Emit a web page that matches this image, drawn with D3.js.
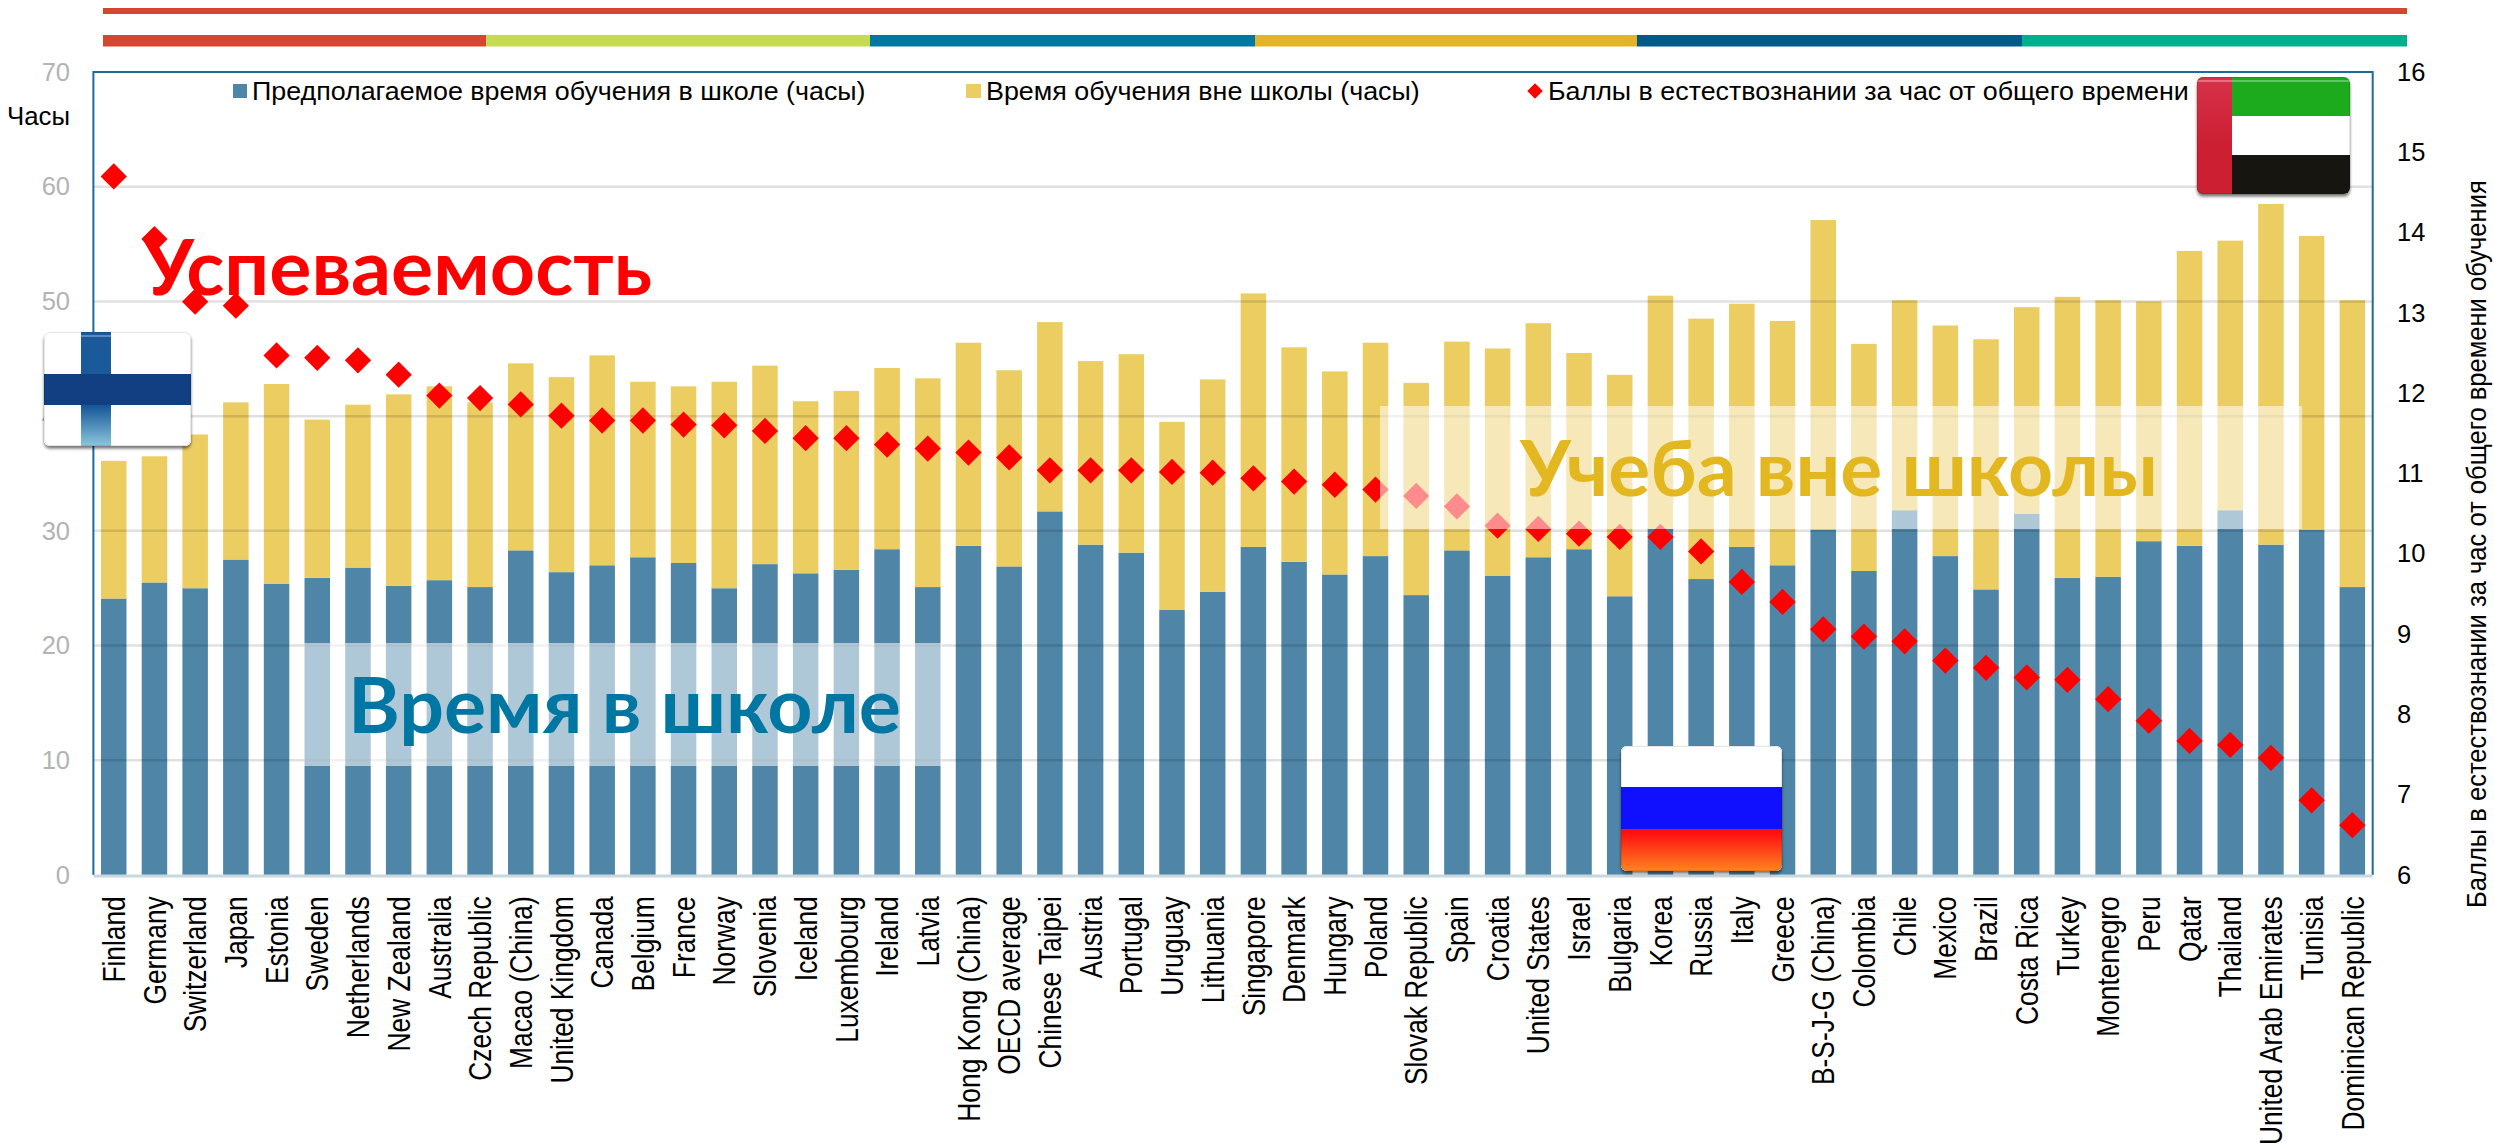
<!DOCTYPE html>
<html><head><meta charset="utf-8">
<script src="https://cdnjs.cloudflare.com/ajax/libs/d3/7.8.5/d3.min.js"></script>
<style>html,body{margin:0;padding:0;background:#fff;overflow:hidden}svg{display:block}text{font-family:"Liberation Sans",Arial,sans-serif}</style>
</head><body><svg id="c" width="2494" height="1143"></svg>
<script>
const categories=["Finland","Germany","Switzerland","Japan","Estonia","Sweden","Netherlands","New Zealand","Australia","Czech Republic","Macao (China)","United Kingdom","Canada","Belgium","France","Norway","Slovenia","Iceland","Luxembourg","Ireland","Latvia","Hong Kong (China)","OECD average","Chinese Taipei","Austria","Portugal","Uruguay","Lithuania","Singapore","Denmark","Hungary","Poland","Slovak Republic","Spain","Croatia","United States","Israel","Bulgaria","Korea","Russia","Italy","Greece","B-S-J-G (China)","Colombia","Chile","Mexico","Brazil","Costa Rica","Turkey","Montenegro","Peru","Qatar","Thailand","United Arab Emirates","Tunisia","Dominican Republic"];
const schoolHours=[24.1,25.5,25.0,27.5,25.4,25.9,26.8,25.2,25.7,25.1,28.3,26.4,27.0,27.7,27.2,25.0,27.1,26.3,26.6,28.4,25.1,28.7,26.9,31.7,28.8,28.1,23.1,24.7,28.6,27.3,26.2,27.8,24.4,28.3,26.1,27.7,28.4,24.3,30.2,25.8,28.6,27.0,30.1,26.5,31.8,27.8,24.9,31.5,25.9,26.0,29.1,28.7,31.8,28.8,30.1,25.1];
const outsideHours=[12.0,11.0,13.4,13.7,17.4,13.8,14.2,16.7,16.9,16.1,16.3,17.0,18.3,15.3,15.4,18.0,17.3,15.0,15.6,15.8,18.2,17.7,17.1,16.5,16.0,17.3,16.4,18.5,22.1,18.7,17.7,18.6,18.5,18.2,19.8,20.4,17.1,19.3,20.3,22.7,21.2,21.3,27.0,19.8,18.3,20.1,21.8,18.0,24.5,24.1,20.9,25.7,23.5,29.7,25.6,25.0];
const sciencePerHour=[14.70,13.92,13.14,13.09,12.47,12.44,12.41,12.23,11.97,11.94,11.86,11.72,11.66,11.66,11.61,11.60,11.53,11.44,11.44,11.36,11.31,11.26,11.20,11.04,11.04,11.04,11.02,11.01,10.94,10.90,10.86,10.80,10.72,10.59,10.35,10.31,10.25,10.21,10.21,10.03,9.65,9.40,9.06,8.97,8.91,8.67,8.58,8.46,8.43,8.19,7.92,7.67,7.62,7.46,6.93,6.62];
const leftTicks=[0,10,20,30,40,50,60,70];
const rightTicks=[6,7,8,9,10,11,12,13,14,15,16];
const legendLabels=["Предполагаемое время обучения в школе (часы)","Время обучения вне школы (часы)","Баллы в естествознании за час от общего времени обучения"];
const leftTitle="Часы";
const rightTitle="Баллы в естествознании за час от общего времени обучения";
const ribbonColors=["#d24632","#c6da52","#0078a0","#e3b428","#005a87","#00b08c"];
const ribbonEdges=[103,486,870,1255,1637,2022,2407];

const L=93.4,R=2372.7,T=72,B=875;
const svg=d3.select("#c"),defs=svg.append("defs");
const x=d3.scaleBand().domain(categories).range([L,R]).paddingInner(1-25.5/40.7).paddingOuter((1-25.5/40.7)/2);
const y=d3.scaleLinear().domain([0,70]).range([B,T]);
const y2=d3.scaleLinear().domain([6,16]).range([B,T]);
const BLUE="#4f86a7",GOLD="#ebcd62";

function fit(g,str,o){
  const t=g.append("text").text(str).attr("font-size",o.size).attr("fill",o.fill||"#000")
    .attr("font-weight",o.weight||400).style("font-family",o.family||null);
  const len=t.node().getComputedTextLength();
  t.attr("transform",`translate(${o.x},${o.y})${o.rot?" rotate(-90)":""} scale(${o.width/len},1)`);
  return t;
}

// ribbons
svg.append("rect").attr("x",103).attr("y",8).attr("width",2304).attr("height",6).attr("fill",ribbonColors[0]);
svg.append("g").selectAll("rect").data(ribbonColors).join("rect")
  .attr("x",(d,i)=>ribbonEdges[i]).attr("width",(d,i)=>ribbonEdges[i+1]-ribbonEdges[i]).attr("y",35).attr("height",11.5).attr("fill",d=>d);

// stacked bars
const rows=categories.map((c,i)=>({c,school:schoolHours[i],outside:outsideHours[i]}));
const stack=d3.stack().keys(["school","outside"])(rows);
const colors={school:BLUE,outside:GOLD};
svg.append("g").selectAll("g").data(stack).join("g").attr("fill",d=>colors[d.key])
  .selectAll("rect").data(d=>d).join("rect")
  .attr("x",d=>x(d.data.c)).attr("width",x.bandwidth())
  .attr("y",d=>y(d[1])).attr("height",d=>y(d[0])-y(d[1]));

// gridlines (seen through bars)
svg.append("g").selectAll("line").data(leftTicks.slice(1,-1)).join("line")
  .attr("x1",L).attr("x2",R).attr("y1",d=>y(d)).attr("y2",d=>y(d))
  .attr("stroke","#000").attr("stroke-opacity",.12).attr("stroke-width",2.5);

// frame
const FR="#1d6a9c";
svg.append("path").attr("d",`M${L},${B}V${T}H${R}V${B}`).attr("fill","none").attr("stroke",FR).attr("stroke-width",2);
svg.append("line").attr("x1",L).attr("x2",R).attr("y1",B+1).attr("y2",B+1).attr("stroke","#c9d7df").attr("stroke-width",3);

// axes
const ax=svg.append("g").attr("transform",`translate(0,${B})`).call(d3.axisBottom(x).tickSize(0));
ax.select(".domain").remove();
ax.selectAll("text").attr("font-size",31).attr("fill","#000").attr("text-anchor","end")
  .attr("y",0).attr("dy",".36em").attr("x",-25)
  .attr("transform","rotate(-90) scale(.85,1)");
const al=svg.append("g").attr("transform",`translate(70,0)`).call(d3.axisLeft(y).tickValues(leftTicks).tickSize(0).tickPadding(0));
al.select(".domain").remove();
al.selectAll("text").attr("font-size",25.5).attr("fill","#b3b3b3");
const ar=svg.append("g").attr("transform",`translate(2397,0)`).call(d3.axisRight(y2).tickValues(rightTicks).tickSize(0).tickPadding(0));
ar.select(".domain").remove();
ar.selectAll("text").attr("font-size",25.5).attr("fill","#000");
fit(svg,leftTitle,{x:7,y:125,size:25.5,width:63});
fit(svg,rightTitle,{x:2486,y:908,size:28,width:728,rot:true});

// legend
const lg=svg.append("g");
lg.append("rect").attr("x",233).attr("y",84).attr("width",14).attr("height",14).attr("fill",BLUE);
fit(lg,legendLabels[0],{x:252,y:100,size:25.5,width:614});
lg.append("rect").attr("x",966).attr("y",84).attr("width",15).attr("height",14).attr("fill",GOLD);
fit(lg,legendLabels[1],{x:986,y:100,size:25.5,width:434});
lg.append("path").attr("d",d3.symbol(d3.symbolSquare,120)).attr("transform","translate(1535,91) rotate(45)").attr("fill","#f00");
fit(lg,legendLabels[2],{x:1548,y:100,size:25.5,width:765});

// diamonds
svg.append("g").selectAll("path").data(sciencePerHour).join("path")
  .attr("d",d3.symbol(d3.symbolSquare,345))
  .attr("transform",(d,i)=>`translate(${x(categories[i])+x.bandwidth()/2},${y2(d)}) rotate(45)`)
  .attr("fill","#f00");

// callouts
const CAL='"Lato","Carlito","Open Sans",sans-serif';
svg.append("rect").attr("x",304).attr("y",643).attr("width",638).attr("height",123).attr("fill","#fff").attr("fill-opacity",.55);
svg.append("rect").attr("x",1380).attr("y",406).attr("width",922).attr("height",123).attr("fill","#fff").attr("fill-opacity",.55);
fit(svg,"Успеваемость",{x:143,y:295,size:77,width:509,weight:700,fill:"#ff0000",family:CAL});
fit(svg,"Время в школе",{x:348,y:733,size:77,width:553,weight:700,fill:"#0076a3",family:CAL});
fit(svg,"Учеба вне школы",{x:1520,y:496,size:77,width:638,weight:700,fill:"#e3b720",family:CAL});

// flags
defs.append("filter").attr("id","sh").attr("x","-10%").attr("y","-10%").attr("width","120%").attr("height","125%")
  .append("feDropShadow").attr("dx",0).attr("dy",2.5).attr("stdDeviation",1.5).attr("flood-color","#000").attr("flood-opacity",.55);
function grad(id,a,b,o1=0,o2=1){const g=defs.append("linearGradient").attr("id",id).attr("x1",0).attr("y1",0).attr("x2",0).attr("y2",1);
  g.append("stop").attr("offset",o1).attr("stop-color",a);g.append("stop").attr("offset",o2).attr("stop-color",b);}
grad("fin","#1a5a9a","#8cc6dc",.66,1);grad("rus","#ff1010","#ff8420",.1,1);grad("uaeR","#d8324a","#cc1f32",0,.6);
function flag(id,X,Y,W,H,parts){
  defs.append("clipPath").attr("id",id).append("rect").attr("x",X).attr("y",Y).attr("width",W).attr("height",H).attr("rx",6);
  svg.append("rect").attr("x",X).attr("y",Y).attr("width",W).attr("height",H).attr("rx",6).attr("fill","#fff").attr("filter","url(#sh)");
  const g=svg.append("g").attr("clip-path",`url(#${id})`);
  parts.forEach(p=>g.append("rect").attr("x",p[0]).attr("y",p[1]).attr("width",p[2]).attr("height",p[3]).attr("fill",p[4]));
  g.append("rect").attr("x",X).attr("y",Y+3).attr("width",W).attr("height",2).attr("fill","#fff").attr("fill-opacity",.3);
  svg.append("rect").attr("x",X+.5).attr("y",Y+.5).attr("width",W-1).attr("height",H-1).attr("rx",6).attr("fill","none").attr("stroke","#000").attr("stroke-opacity",.1);
}
flag("cf",44,332,147,114,[[44,332,147,114,"#fff"],[81,332,30,114,"url(#fin)"],[44,374,147,31,"#123f82"]]);
flag("cu",2197,77,153,117,[[2197,77,153,39,"#1cab1c"],[2197,116,153,39,"#fff"],[2197,155,153,39,"#161510"],[2197,77,35,117,"url(#uaeR)"]]);
flag("cr",1621,746,161,125,[[1621,746,161,41,"#fff"],[1621,787,161,42,"#1010ff"],[1621,829,161,42,"url(#rus)"]]);
</script></body></html>
